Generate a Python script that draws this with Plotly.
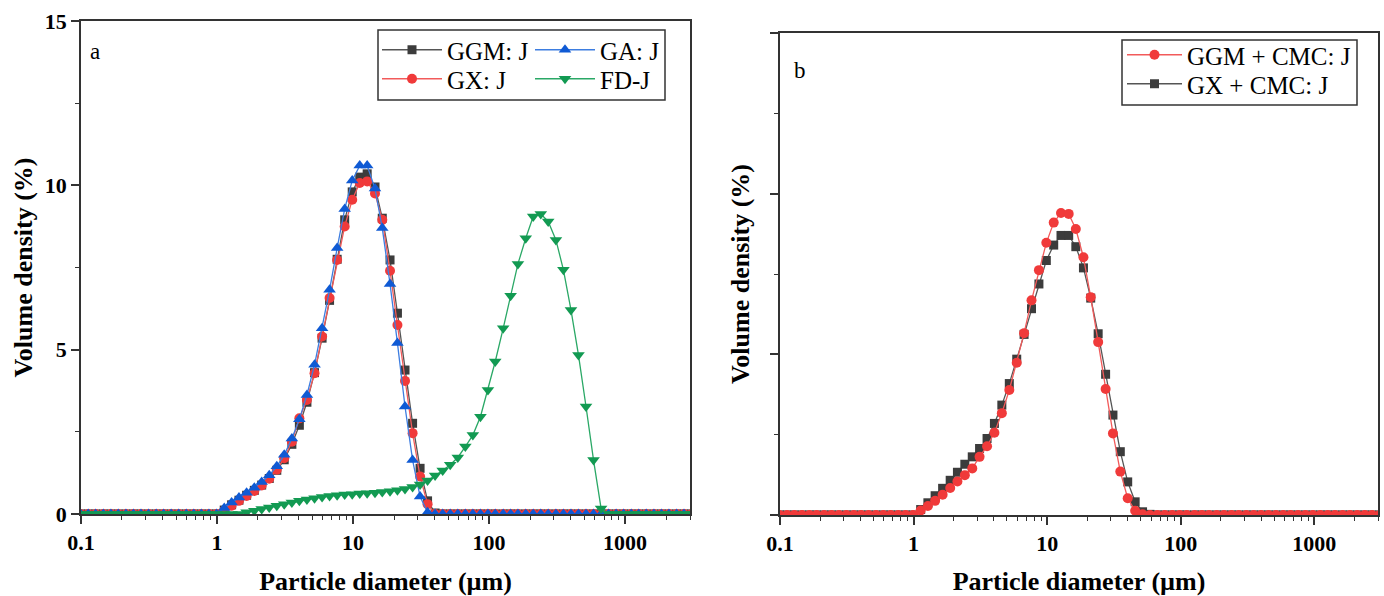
import math
import plotly.graph_objects as go

# Particle size classes (µm)
SIZE_UM = [0.0995, 0.113, 0.128, 0.146, 0.166, 0.188, 0.214, 0.243, 0.276, 0.314,
           0.357, 0.405, 0.460, 0.523, 0.594, 0.675, 0.767, 0.872, 0.991, 1.13,
           1.28, 1.45, 1.65, 1.88, 2.13, 2.42, 2.75, 3.12, 3.55, 4.03,
           4.58, 5.21, 5.92, 6.72, 7.64, 8.68, 9.86, 11.2, 12.7, 14.5,
           16.4, 18.7, 21.2, 24.1, 27.4, 31.1, 35.3, 40.1, 45.6, 51.8,
           58.9, 66.9, 76.0, 86.4, 98.1, 111, 127, 144, 163, 186,
           211, 240, 272, 310, 352, 400, 454, 516, 586, 666,
           756, 859, 976, 1110, 1260, 1430, 1630, 1850, 2100, 2390,
           2710, 3080]

# Panel a
GGM_J = [0, 0, 0, 0, 0, 0, 0, 0, 0, 0,
         0, 0, 0, 0, 0, 0, 0, 0, 0, 0.12,
         0.28, 0.42, 0.57, 0.72, 0.88, 1.08, 1.33, 1.65, 2.12, 2.7,
         3.4, 4.3, 5.35, 6.5, 7.75, 8.95, 9.8, 10.25, 10.35, 9.95,
         9.0, 7.73, 6.11, 4.38, 2.76, 1.39, 0.4, 0.03, 0, 0,
         0, 0, 0, 0, 0, 0, 0, 0, 0, 0,
         0, 0, 0, 0, 0, 0, 0, 0, 0, 0,
         0, 0, 0, 0, 0, 0, 0, 0, 0, 0,
         0, 0]
GX_J = [0, 0, 0, 0, 0, 0, 0, 0, 0, 0,
        0, 0, 0, 0, 0, 0, 0, 0, 0, 0.1,
        0.25, 0.4, 0.55, 0.7, 0.87, 1.07, 1.35, 1.7, 2.2, 2.91,
        3.47, 4.28, 5.4, 6.57, 7.73, 8.75, 9.56, 10.07, 10.12, 9.75,
        8.95, 7.4, 5.75, 4.05, 2.46, 1.14, 0.3, 0, 0, 0,
        0, 0, 0, 0, 0, 0, 0, 0, 0, 0,
        0, 0, 0, 0, 0, 0, 0, 0, 0, 0,
        0, 0, 0, 0, 0, 0, 0, 0, 0, 0,
        0, 0]
GA_J = [0, 0, 0, 0, 0, 0, 0, 0, 0, 0,
        0, 0, 0, 0, 0, 0, 0, 0, 0, 0.18,
        0.35, 0.5, 0.65, 0.8, 0.97, 1.18, 1.45, 1.8, 2.3, 2.88,
        3.62, 4.54, 5.65, 6.82, 8.09, 9.28, 10.15, 10.6, 10.6, 9.9,
        8.7, 7.0, 5.2, 3.27, 1.64, 0.53, 0.05, 0, 0, 0,
        0, 0, 0, 0, 0, 0, 0, 0, 0, 0,
        0, 0, 0, 0, 0, 0, 0, 0, 0, 0,
        0, 0, 0, 0, 0, 0, 0, 0, 0, 0,
        0, 0]
FD_J = [0, 0, 0, 0, 0, 0, 0, 0, 0, 0,
        0, 0, 0, 0, 0, 0, 0, 0, 0, 0,
        0, 0, 0.05, 0.1, 0.15, 0.2, 0.25, 0.3, 0.35, 0.4,
        0.44, 0.48, 0.52, 0.55, 0.57, 0.59, 0.6, 0.62, 0.63, 0.65,
        0.67, 0.69, 0.72, 0.76, 0.82, 0.9, 1.02, 1.17, 1.32, 1.5,
        1.72, 2.05, 2.4, 2.96, 3.77, 4.64, 5.65, 6.64, 7.61, 8.39,
        9.05, 9.13, 8.9, 8.34, 7.43, 6.21, 4.84, 3.27, 1.64, 0.17,
        0, 0, 0, 0, 0, 0, 0, 0, 0, 0,
        0, 0]

# Panel b
GGM_CMC_J = [0, 0, 0, 0, 0, 0, 0, 0, 0, 0,
             0, 0, 0, 0, 0, 0, 0, 0, 0, 0.14,
             0.28, 0.44, 0.63, 0.84, 1.04, 1.24, 1.45, 1.81, 2.14, 2.56,
             3.17, 3.89, 4.74, 5.66, 6.68, 7.62, 8.47, 9.1, 9.4, 9.37,
             8.9, 8.02, 6.78, 5.38, 3.92, 2.54, 1.35, 0.52, 0.13, 0.02,
             0, 0, 0, 0, 0, 0, 0, 0, 0, 0,
             0, 0, 0, 0, 0, 0, 0, 0, 0, 0,
             0, 0, 0, 0, 0, 0, 0, 0, 0, 0,
             0, 0]
GX_CMC_J = [0, 0, 0, 0, 0, 0, 0, 0, 0, 0,
            0, 0, 0, 0, 0, 0, 0, 0, 0, 0.17,
            0.38, 0.6, 0.83, 1.08, 1.33, 1.58, 1.81, 2.07, 2.38, 2.85,
            3.42, 4.09, 4.85, 5.62, 6.42, 7.19, 7.92, 8.4, 8.7, 8.7,
            8.35, 7.69, 6.75, 5.64, 4.38, 3.11, 1.97, 1.03, 0.41, 0.1,
            0.02, 0, 0, 0, 0, 0, 0, 0, 0, 0,
            0, 0, 0, 0, 0, 0, 0, 0, 0, 0,
            0, 0, 0, 0, 0, 0, 0, 0, 0, 0,
            0, 0]

X_TICKS = [0.1, 1, 10, 100, 1000]
X_TICKTEXT = ["0.1", "1", "10", "100", "1000"]
Y_TICKS = [0, 5, 10, 15]

W, H = 1384, 596
SERIF = "Liberation Serif"

fig = go.Figure()


def add(y, name, color, lcolor, symbol, size, xa, ya, legend):
    fig.add_trace(go.Scatter(
        x=SIZE_UM, y=y, name=name, mode="lines+markers",
        xaxis=xa, yaxis=ya, legend=legend,
        line=dict(color=lcolor, width=1.3),
        marker=dict(symbol=symbol, size=size, color=color, line=dict(width=0)),
    ))


add(GGM_J, "GGM: J", "#3c3c3c", "#555555", "square", 9, "x", "y", "legend")
add(GX_J, "GX: J", "#f03a3a", "#f25a5a", "circle", 10, "x", "y", "legend3")
add(GA_J, "GA: J", "#0f5ad4", "#3d7de0", "triangle-up", 11, "x", "y", "legend2")
add(FD_J, "FD-J", "#129a52", "#2aa866", "triangle-down", 11, "x", "y", "legend4")

add(GX_CMC_J, "GX + CMC: J", "#3c3c3c", "#555555", "square", 9, "x2", "y2", "legend6")
add(GGM_CMC_J, "GGM + CMC: J", "#f03a3a", "#f25a5a", "circle", 10, "x2", "y2", "legend5")

minor_x = [m * 10 ** e for e in range(-1, 4) for m in range(2, 10) if m * 10 ** e <= 3000]

axis_common = dict(showline=True, linecolor="#333333", linewidth=1.5, mirror=True,
                   ticks="outside", ticklen=8, tickwidth=1.5, tickcolor="#333333",
                   showgrid=False, zeroline=False, automargin=False)
tickfont = dict(family=SERIF, size=22, color="black", weight="bold")
titlefont = dict(family=SERIF, size=26, color="black")

xa = dict(axis_common, type="log", range=[-1, math.log10(3000)],
          tickvals=X_TICKS, ticktext=X_TICKTEXT, tickfont=tickfont,
          minor=dict(tickvals=minor_x, ticks="outside", ticklen=4, tickwidth=1.2, tickcolor="#333333"),
          title=dict(text="<b>Particle diameter (µm)</b>", font=titlefont, standoff=19))
ya = dict(axis_common, range=[0, 15], tickvals=Y_TICKS, tickfont=tickfont,
          minor=dict(dtick=2.5, tick0=0, ticks="outside", ticklen=4, tickwidth=1.2, tickcolor="#333333"),
          title=dict(text="<b>Volume density (%)</b>", font=titlefont, standoff=5))


def leg(x, ytop, itemwidth):
    return dict(x=x / W, y=1 - ytop / H, xanchor="left", yanchor="top",
                bgcolor="rgba(0,0,0,0)", borderwidth=0, itemwidth=itemwidth,
                font=dict(family=SERIF, size=25, color="black"), tracegroupgap=0)


fig.update_layout(
    width=W, height=H,
    margin=dict(l=0, r=0, t=0, b=0, autoexpand=False),
    paper_bgcolor="white", plot_bgcolor="white",
    xaxis=dict(xa, domain=[81 / W, 690 / W], anchor="y"),
    yaxis=dict(ya, domain=[1 - 514 / H, 1 - 21 / H], anchor="x"),
    xaxis2=dict(xa, domain=[780 / W, 1378 / W], anchor="y2"),
    yaxis2=dict(ya, domain=[1 - 515 / H, 1 - 33 / H], anchor="x2", showticklabels=False,
                title=dict(text="<b>Volume density (%)</b>", font=titlefont, standoff=13)),
    legend=leg(377, 27, 60),
    legend2=leg(530, 27, 60),
    legend3=leg(377, 56, 60),
    legend4=leg(530, 56, 60),
    legend5=leg(1122, 32, 55),
    legend6=leg(1122, 61, 55),
    shapes=[
        dict(type="rect", xref="paper", yref="paper", x0=378 / W, x1=665 / W,
             y0=1 - 100 / H, y1=1 - 30 / H, line=dict(color="#333333", width=1.5)),
        dict(type="rect", xref="paper", yref="paper", x0=1122 / W, x1=1357 / W,
             y0=1 - 105 / H, y1=1 - 40 / H, line=dict(color="#333333", width=1.5)),
    ],
    annotations=[
        dict(text="a", x=88 / W, y=1 - 52 / H, xref="paper", yref="paper",
             xanchor="left", yanchor="middle", showarrow=False,
             font=dict(family=SERIF, size=23, color="black")),
        dict(text="b", x=792 / W, y=1 - 70 / H, xref="paper", yref="paper",
             xanchor="left", yanchor="middle", showarrow=False,
             font=dict(family=SERIF, size=23, color="black")),
    ],
    showlegend=True,
)

fig.write_html("out.html")
